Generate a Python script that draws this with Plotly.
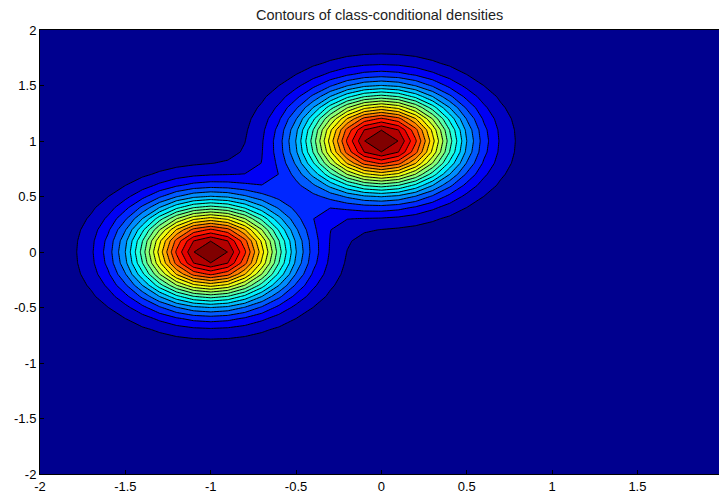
import numpy as np
import plotly.graph_objects as go

# Class-conditional density parameters
class_means_x = [-1.0, 0.0]
class_means_y = [0.0, 1.0]
class_variance = [0.1, 0.1]
class_priors = [0.5, 0.5]
grid_x = np.round(np.arange(-2.0, 2.0001, 0.1), 10)
grid_y = np.round(np.arange(-2.0, 2.0001, 0.1), 10)
n_levels = 20
x_ticks = [-2, -1.5, -1, -0.5, 0, 0.5, 1, 1.5]
x_tick_labels = ["-2", "-1.5", "-1", "-0.5", "0", "0.5", "1", "1.5"]
y_ticks = [-2, -1.5, -1, -0.5, 0, 0.5, 1, 1.5, 2]
y_tick_labels = ["-2", "-1.5", "-1", "-0.5", "0", "0.5", "1", "1.5", "2"]

X, Y = np.meshgrid(grid_x, grid_y)
Z = np.zeros_like(X)
for mx, my, v, p in zip(class_means_x, class_means_y, class_variance, class_priors):
    Z += p * np.exp(-((X - mx) ** 2 + (Y - my) ** 2) / (2 * v)) / (2 * np.pi * v)

zmax = Z.max()
step = zmax / (n_levels + 1)

jet = [
    [0.0, "rgb(0,0,143)"],
    [0.111, "rgb(0,0,255)"],
    [0.365, "rgb(0,255,255)"],
    [0.619, "rgb(255,255,0)"],
    [0.873, "rgb(255,0,0)"],
    [1.0, "rgb(128,0,0)"],
]

fig = go.Figure(go.Contour(
    x=grid_x, y=grid_y, z=Z,
    colorscale=jet,
    showscale=False,
    contours=dict(start=step, end=step * (n_levels + 0.5), size=step, coloring="fill"),
    line=dict(color="black", width=1, smoothing=0),
    hoverinfo="skip",
))

font = "Liberation Sans, Arial, Helvetica, sans-serif"
fig.update_layout(
    width=719, height=493,
    margin=dict(l=40, r=0, t=30, b=19, autoexpand=False),
    paper_bgcolor="white", plot_bgcolor="rgb(0,0,143)",
    title=dict(text="Contours of class-conditional densities", x=0.528, xanchor="center",
               y=0.969, yanchor="middle", font=dict(family=font, size=14.5, color="rgb(30,30,30)")),
    font=dict(family=font, size=13, color="black"),
    xaxis=dict(range=[-2, 1.978], tickvals=x_ticks, ticktext=x_tick_labels, automargin=False,
               showgrid=False, zeroline=False, showline=True, linecolor="black", linewidth=1,
               mirror=True, ticks="inside", ticklen=4, tickcolor="black", ticklabelstandoff=0),
    yaxis=dict(range=[-2, 2], tickvals=y_ticks, ticktext=y_tick_labels, automargin=False,
               showgrid=False, zeroline=False, showline=True, linecolor="black", linewidth=1,
               mirror=True, ticks="inside", ticklen=4, tickcolor="black", ticklabelstandoff=0),
)

fig.write_html("out.html", config={"displayModeBar": False},
               post_script="document.body.style.margin='0';document.body.style.overflow='hidden';")
